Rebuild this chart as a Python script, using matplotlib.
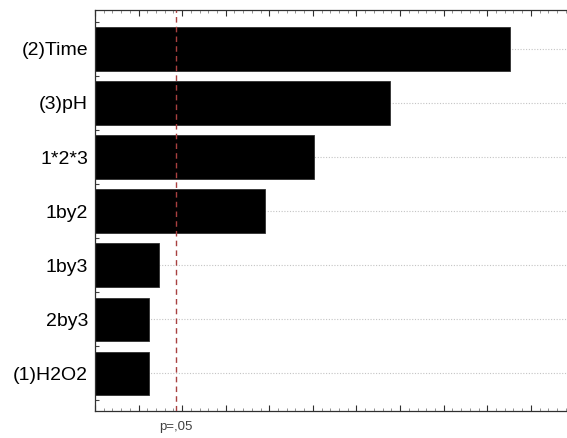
import matplotlib.pyplot as plt
from matplotlib.ticker import MultipleLocator, NullFormatter
import matplotlib.transforms as mtransforms

# Standardized effect estimates (absolute values)
effects = ["(2)Time", "(3)pH", "1*2*3", "1by2", "1by3", "2by3", "(1)H2O2"]
values = [9.52, 6.77, 5.02, 3.90, 1.47, 1.24, 1.24]
p_crit = 1.86
p_label = "p=,05"

plt.rcParams['font.family'] = ['Liberation Sans', 'DejaVu Sans']

fig = plt.figure(figsize=(5.67, 4.38), dpi=100)
ax = fig.add_axes([0.1675, 0.0616, 0.8325, 0.9155])

pos = list(range(len(effects)))[::-1]

# dotted guide lines behind the bars
for y in pos:
    ax.axhline(y, color='#c4c4c4', linestyle=(0, (1, 1.5)), linewidth=0.8, zorder=0)

ax.barh(pos, values, height=0.8, color='black', edgecolor='#303030',
        linewidth=0.6, zorder=2)

ax.axvline(p_crit, color='#a84040', linestyle=(0, (4, 3)), linewidth=1.0, zorder=3)

ax.set_xlim(0, 10.83)
ax.set_ylim(-0.7, 6.72)

ax.set_yticks(pos)
ax.set_yticklabels(effects, fontsize=14)
ax.tick_params(axis='y', length=0, pad=5)
ax.yaxis.set_minor_locator(MultipleLocator(1.0, offset=0.5))
ax.tick_params(axis='y', which='minor', direction='in', length=3, width=0.8,
               color='#404040')

ax.xaxis.set_major_locator(MultipleLocator(1.0))
ax.xaxis.set_minor_locator(MultipleLocator(0.2))
ax.xaxis.set_major_formatter(NullFormatter())
ax.tick_params(axis='x', which='major', direction='in', length=4, width=0.8,
               top=True, bottom=True, color='#303030')
ax.tick_params(axis='x', which='minor', direction='in', length=2, width=0.6,
               top=True, bottom=True, color='#808080')

for side in ['left', 'bottom', 'top']:
    ax.spines[side].set_color('#303030')
    ax.spines[side].set_linewidth(0.9)
ax.spines['right'].set_visible(False)

trans = mtransforms.blended_transform_factory(ax.transData, ax.transAxes)
ax.text(p_crit, -0.04, p_label, transform=trans, ha='center', va='center',
        fontsize=9.5, color='#404040')

fig.savefig('out.png', dpi=100)
